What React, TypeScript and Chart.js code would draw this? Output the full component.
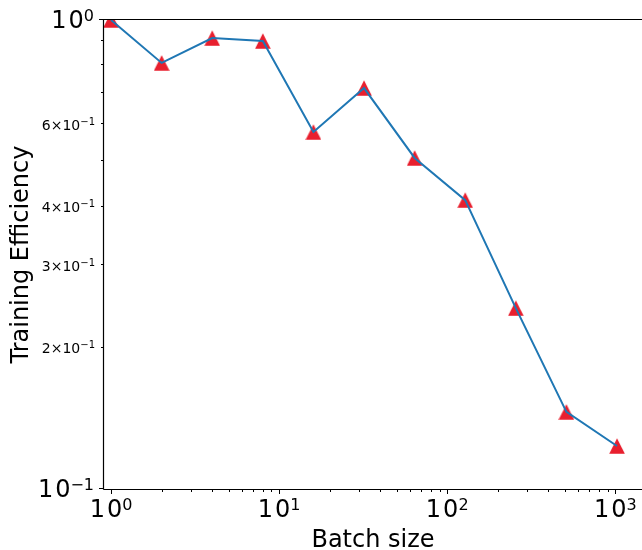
import { useEffect, useRef } from 'react';
import { Chart, registerables } from 'chart.js';

Chart.register(...registerables);

// ---- data ----
const BATCH_SIZES = [1, 2, 4, 8, 16, 32, 64, 128, 256, 512, 1024];
const EFFICIENCY = [1.0, 0.81, 0.915, 0.902, 0.577, 0.716, 0.508, 0.413, 0.243, 0.146, 0.1235];

const X_LIMITS = [0.908, 1442];
const Y_LIMITS = [0.1, 1.0];

// tick values and their labels (label = [base, superscript])
const X_MAJOR_TICKS = [1, 10, 100, 1000];
const X_MAJOR_LABELS = [['10', '0'], ['10', '1'], ['10', '2'], ['10', '3']];
const X_MINOR_TICKS = [2, 3, 4, 5, 6, 7, 8, 9, 20, 30, 40, 50, 60, 70, 80, 90, 200, 300, 400, 500, 600, 700, 800, 900];

const Y_MAJOR_TICKS = [0.1, 1.0];
const Y_MAJOR_LABELS = [['10', '−1'], ['10', '0']];
const Y_MINOR_TICKS = [0.2, 0.3, 0.4, 0.5, 0.6, 0.7, 0.8, 0.9];
const Y_MINOR_LABELS = [['2×10', '−1'], ['3×10', '−1'], ['4×10', '−1'], null, ['6×10', '−1'], null, null, null];

const X_TITLE = 'Batch size';
const Y_TITLE = 'Training Efficiency';

const FONT = "'DejaVu Sans', sans-serif";
const LINE_COLOR = '#1f77b4';
const MARKER_COLOR = 'rgb(232, 31, 46)';

const near = (a: number, b: number) => Math.abs(a - b) < 1e-9 * Math.max(1, Math.abs(b));
const findIdx = (arr: number[], v: number) => arr.findIndex((t) => near(t, v));

function labelParts(v: number, majors: number[], majorLabels: any[], minors: number[], minorLabels: any[]) {
  const i = findIdx(majors, v);
  if (i >= 0) return { parts: majorLabels[i] as string[], major: true };
  const j = findIdx(minors, v);
  if (j >= 0 && minorLabels[j]) return { parts: minorLabels[j] as string[], major: false };
  return null;
}

function makeTicks(majors: number[], minors: number[], lo: number, hi: number) {
  return [...majors, ...minors]
    .filter((v) => v >= lo && v <= hi)
    .sort((a, b) => a - b)
    .map((v) => ({ value: v, major: findIdx(majors, v) >= 0 }));
}

function makeMarker(): HTMLCanvasElement {
  const c = document.createElement('canvas');
  c.width = 16;
  c.height = 16;
  const g = c.getContext('2d')!;
  g.fillStyle = MARKER_COLOR;
  g.beginPath();
  g.moveTo(8, 0.3);
  g.lineTo(15.8, 15.7);
  g.lineTo(0.2, 15.7);
  g.closePath();
  g.fill();
  return c;
}

const SIZES = {
  major: { base: 24, exp: 16, rise: 7, baseline: 7.5, spacing: 2, gap: 10 },
  minor: { base: 14, exp: 10, rise: 5, baseline: 5.5, spacing: 0, gap: 9 },
};

function drawLabel(ctx: any, parts: string[], major: boolean, anchorX: number, baselineY: number, align: 'right' | 'center') {
  const s = major ? SIZES.major : SIZES.minor;
  const baseFont = `${s.base}px ${FONT}`;
  const expFont = `${s.exp}px ${FONT}`;
  ctx.font = baseFont;
  const wb = ctx.measureText(parts[0]).width + s.spacing * (parts[0].length - 1);
  ctx.font = expFont;
  const we = ctx.measureText(parts[1]).width;
  const total = wb + we;
  const x0 = align === 'right' ? anchorX - total : anchorX - total / 2;
  ctx.textAlign = 'left';
  ctx.textBaseline = 'alphabetic';
  ctx.font = baseFont;
  if (s.spacing) {
    let x = x0;
    for (const ch of parts[0]) {
      ctx.fillText(ch, x, baselineY);
      x += ctx.measureText(ch).width + s.spacing;
    }
  } else {
    ctx.fillText(parts[0], x0, baselineY);
  }
  ctx.font = expFont;
  ctx.fillText(parts[1], x0 + wb, baselineY - s.rise);
}

const axesPlugin = {
  id: 'mplAxes',
  afterDatasetsDraw(chart: any) {
    const { ctx, chartArea: a, scales } = chart;
    const xs = scales.x;
    const ys = scales.y;
    ctx.save();
    ctx.strokeStyle = '#000';
    ctx.lineWidth = 1;
    ctx.beginPath();
    for (const t of xs.ticks) {
      const px = Math.round(xs.getPixelForValue(t.value)) + 0.5;
      const len = t.major ? 5 : 3;
      ctx.moveTo(px, a.bottom);
      ctx.lineTo(px, a.bottom + len);
    }
    for (const t of ys.ticks) {
      const py = Math.round(ys.getPixelForValue(t.value)) - 0.5;
      const len = t.major ? 5 : 3;
      ctx.moveTo(a.left, py);
      ctx.lineTo(a.left - len, py);
    }
    ctx.stroke();
    ctx.lineWidth = 1.2;
    ctx.beginPath();
    ctx.moveTo(a.left - 0.5, a.top - 0.5);
    ctx.lineTo(a.left - 0.5, a.bottom + 0.5);
    ctx.moveTo(a.left - 0.5, a.bottom + 0.5);
    ctx.lineTo(a.right, a.bottom + 0.5);
    ctx.moveTo(a.left - 0.5, a.top - 0.5);
    ctx.lineTo(a.right, a.top - 0.5);
    ctx.stroke();

    // tick labels
    ctx.fillStyle = '#000';
    for (const t of xs.ticks) {
      const lp = labelParts(t.value, X_MAJOR_TICKS, X_MAJOR_LABELS, X_MINOR_TICKS, []);
      if (!lp) continue;
      const px = xs.getPixelForValue(t.value);
      drawLabel(ctx, lp.parts, lp.major, px, a.bottom + 28, 'center');
    }
    for (const t of ys.ticks) {
      const lp = labelParts(t.value, Y_MAJOR_TICKS, Y_MAJOR_LABELS, Y_MINOR_TICKS, Y_MINOR_LABELS);
      if (!lp) continue;
      const py = ys.getPixelForValue(t.value);
      const s = lp.major ? SIZES.major : SIZES.minor;
      drawLabel(ctx, lp.parts, lp.major, a.left - s.gap, py + s.baseline, 'right');
    }
    ctx.restore();
  },
};

export default function App() {
  const ref = useRef<HTMLCanvasElement | null>(null);

  useEffect(() => {
    if (!ref.current) return;
    const marker = makeMarker();
    const points = BATCH_SIZES.map((x, i) => ({ x, y: EFFICIENCY[i] }));
    const chart = new Chart(ref.current, {
      type: 'line',
      data: {
        datasets: [
          {
            data: points,
            borderColor: LINE_COLOR,
            borderWidth: 2,
            pointRadius: 0,
            fill: false,
            tension: 0,
            clip: 0,
            order: 0,
          } as any,
          {
            data: points,
            showLine: false,
            pointStyle: marker,
            pointRadius: 8,
            clip: 0,
            order: 1,
          } as any,
        ],
      },
      options: {
        animation: false,
        responsive: false,
        devicePixelRatio: 1,
        events: [],
        layout: { autoPadding: false, padding: { left: 0, right: 0, top: 20, bottom: 0 } },
        plugins: { legend: { display: false }, tooltip: { enabled: false } },
        scales: {
          x: {
            type: 'logarithmic',
            position: 'bottom',
            min: X_LIMITS[0],
            max: X_LIMITS[1],
            grid: { display: false, drawTicks: false },
            border: { display: false },
            afterBuildTicks: (s: any) => {
              s.ticks = makeTicks(X_MAJOR_TICKS, X_MINOR_TICKS, X_LIMITS[0], X_LIMITS[1]);
            },
            afterFit: (s: any) => {
              s.height = 61;
              s.paddingLeft = 0;
              s.paddingRight = 0;
            },
            ticks: { display: false, autoSkip: false },
            title: {
              display: true,
              text: X_TITLE,
              color: '#000',
              font: { family: FONT, size: 24, lineHeight: 0.8 },
              padding: { top: 0, bottom: 0 },
            },
          },
          y: {
            type: 'logarithmic',
            position: 'left',
            min: Y_LIMITS[0],
            max: Y_LIMITS[1],
            grid: { display: false, drawTicks: false },
            border: { display: false },
            afterBuildTicks: (s: any) => {
              s.ticks = makeTicks(Y_MAJOR_TICKS, Y_MINOR_TICKS, Y_LIMITS[0], Y_LIMITS[1]);
            },
            afterFit: (s: any) => {
              s.width = 104;
              s.paddingTop = 0;
              s.paddingBottom = 0;
            },
            ticks: { display: false, autoSkip: false },
            title: {
              display: true,
              text: Y_TITLE,
              color: '#000',
              font: { family: FONT, size: 24, lineHeight: 0.8 },
              padding: { top: 12, bottom: 0 },
            },
          },
        },
      },
      plugins: [axesPlugin],
    });
    return () => chart.destroy();
  }, []);

  return (
    <div style={{ position: 'fixed', left: 0, top: 0, width: 642, height: 550, background: '#fff' }}>
      <canvas ref={ref} width={642} height={550} style={{ display: 'block', width: 642, height: 550 }} />
    </div>
  );
}
